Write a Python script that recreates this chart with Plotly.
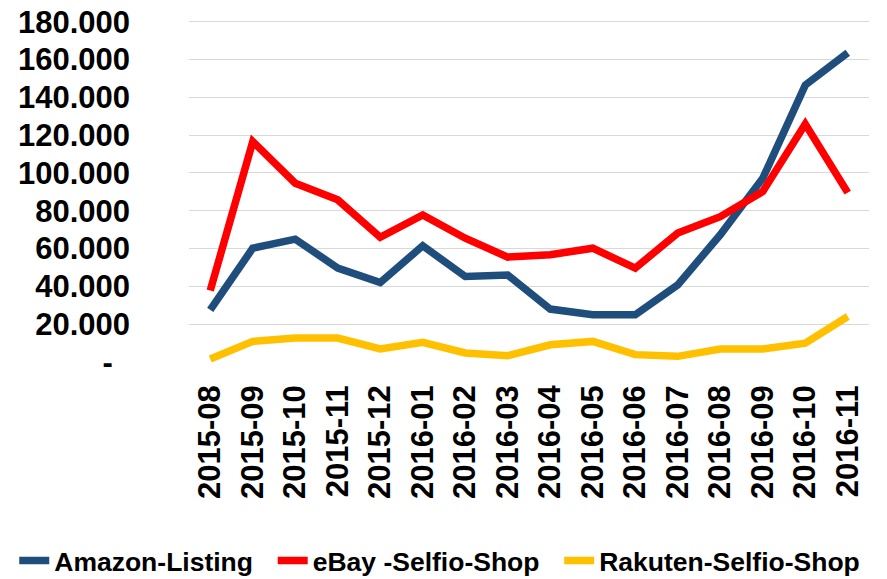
import plotly.graph_objects as go

months = ["2015-08", "2015-09", "2015-10", "2015-11", "2015-12", "2016-01", "2016-02", "2016-03",
          "2016-04", "2016-05", "2016-06", "2016-07", "2016-08", "2016-09", "2016-10", "2016-11"]
amazon = [27600, 60200, 65000, 49700, 42000, 61500, 45200, 46000,
          28000, 25000, 25000, 40800, 67300, 97200, 146500, 163600]
ebay = [37800, 116600, 94600, 85800, 66000, 77800, 65500, 55500,
        56700, 60200, 49700, 68200, 76900, 90200, 125900, 89600]
rakuten = [1600, 10900, 12700, 12700, 6900, 10400, 4800, 3300,
           9100, 10900, 3900, 3000, 6900, 6900, 10000, 24100]

ytick_vals = [0, 20000, 40000, 60000, 80000, 100000, 120000, 140000, 160000, 180000]
ytick_text = ["-\u00a0\u00a0", "20.000", "40.000", "60.000", "80.000", "100.000",
              "120.000", "140.000", "160.000", "180.000"]

series = [("Amazon-Listing", amazon, "#1F4E7D"),
          ("eBay -Selfio-Shop", ebay, "#FF0000"),
          ("Rakuten-Selfio-Shop", rakuten, "#FFC000")]

pad = "\u00a0\u00a0"
fig = go.Figure()
for name, vals, color in series:
    fig.add_trace(go.Scatter(x=months, y=vals, name=name + pad, mode="lines",
                             line=dict(color=color, width=7.5)))

font_family = "Liberation Sans, Arial, sans-serif"
fig.update_layout(
    width=887, height=579,
    margin=dict(l=181, r=26, t=10, b=225, autoexpand=False),
    plot_bgcolor="white", paper_bgcolor="white",
    font=dict(family=font_family, color="black"),
    showlegend=True,
    legend=dict(orientation="h", x=-0.257, y=-0.508, xanchor="left", yanchor="top",
                font=dict(size=26.5, family=font_family, weight="bold"),
                itemwidth=30, tracegroupgap=0),
)
fig.update_xaxes(type="category", range=[-0.5, 15.5], tickangle=-90, automargin=False,
                 tickfont=dict(size=31, weight="bold"), showgrid=False,
                 showline=False, zeroline=False, ticks="", ticklabelstandoff=16)
fig.update_yaxes(range=[0, 182000], tickvals=ytick_vals, ticktext=ytick_text, automargin=False,
                 tickfont=dict(size=31, weight="bold"), showgrid=True, ticklabeloverflow="allow",
                 gridcolor="#D9D9D9", gridwidth=1.3, zeroline=False, showline=False,
                 ticks="", ticklabelstandoff=58)

fig.write_html("out.html")
